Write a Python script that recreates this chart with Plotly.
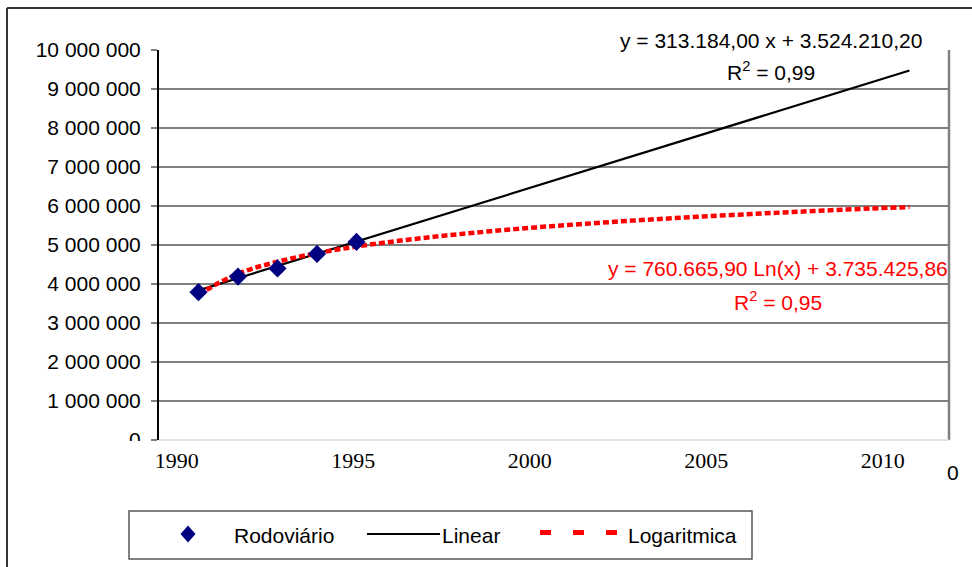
import plotly.graph_objects as go

# ---- data ----
period_index = [1, 2, 3, 4, 5]
rodoviario = [3_790_000, 4_190_000, 4_400_000, 4_770_000, 5_080_000]

linear_x = [1, 19]
linear_y = [3_837_000, 9_475_000]

log_x = list(range(1, 20))
log_y = [3_735_000, 4_263_000, 4_571_000, 4_790_000, 4_960_000, 5_098_000,
         5_216_000, 5_317_000, 5_407_000, 5_487_000, 5_559_000, 5_626_000,
         5_686_000, 5_743_000, 5_795_000, 5_844_000, 5_891_000, 5_934_000,
         5_975_000]

y_tickvals = [0, 1_000_000, 2_000_000, 3_000_000, 4_000_000, 5_000_000,
              6_000_000, 7_000_000, 8_000_000, 9_000_000, 10_000_000]
y_ticktext = ["0", "1 000 000", "2 000 000", "3 000 000", "4 000 000",
              "5 000 000", "6 000 000", "7 000 000", "8 000 000",
              "9 000 000", "10 000 000"]
year_ticks = [1990, 1995, 2000, 2005, 2010]
year_labels = ["1990", "1995", "2000", "2005", "2010"]

lin_eq = "y = 313.184,00 x + 3.524.210,20"
lin_r2 = "R<sup>2</sup> = 0,99"
log_eq = "y = 760.665,90 Ln(x) + 3.735.425,86"
log_r2 = "R<sup>2</sup> = 0,95"
legend_names = ["Rodoviário", "Linear", "Logaritmica"]

# ---- layout geometry (pixels) ----
W, H = 972, 567
L, R, T, B = 159, 949, 50, 440


def px(x):
    return (x - L) / (R - L)


def py(y):
    return (B - y) / (B - T)


SANS = "Liberation Sans, Arial, sans-serif"
SERIF = "Liberation Serif, Times New Roman, serif"

fig = go.Figure()

fig.add_trace(go.Scatter(
    x=linear_x, y=linear_y, mode="lines",
    line=dict(color="black", width=2.2), showlegend=False, hoverinfo="skip"))
fig.add_trace(go.Scatter(
    x=log_x, y=log_y, mode="lines", line_shape="spline",
    line=dict(color="#ff0000", width=4.5, dash="6px,3px"),
    showlegend=False, hoverinfo="skip"))
fig.add_trace(go.Scatter(
    x=period_index, y=rodoviario, mode="markers",
    marker=dict(symbol="diamond", size=14, color="#000080",
                line=dict(width=0)),
    name=legend_names[0], showlegend=False))
# invisible trace to activate year axis
fig.add_trace(go.Scatter(x=[year_ticks[0]], y=[None], xaxis="x2",
                         showlegend=False, hoverinfo="skip"))

fig.update_layout(
    template="none",
    width=W, height=H,
    margin=dict(l=L, r=W - R, t=T, b=H - B, pad=0),
    paper_bgcolor="white", plot_bgcolor="white",
    showlegend=False,
    font=dict(family=SANS, size=21, color="black"),
    xaxis=dict(range=[0, 20], showgrid=False, zeroline=False,
               showticklabels=False, showline=False, ticks="",
               automargin=False, fixedrange=True),
    xaxis2=dict(range=[1989.5, 2011.88], overlaying="x", side="bottom",
                anchor="y", showgrid=False, zeroline=False, showline=False,
                ticks="", tickvals=year_ticks, ticktext=year_labels,
                tickfont=dict(family=SERIF, size=22, color="black"),
                ticklabelstandoff=5, automargin=False),
    yaxis=dict(range=[0, 10_000_000], tickvals=y_tickvals,
               ticktext=y_ticktext, showgrid=True, gridcolor="#808080",
               gridwidth=1.5, zeroline=False, showline=True,
               linecolor="black", linewidth=2, ticks="outside", ticklen=6,
               tickcolor="#808080", tickwidth=1.5,
               tickfont=dict(family=SANS, size=21, color="black"),
               ticklabelstandoff=6, automargin=False),
)

shapes = []
# plot-area right border
shapes.append(dict(type="line", xref="paper", yref="paper",
                   x0=px(R), x1=px(R), y0=py(T), y1=py(B),
                   line=dict(color="#808080", width=2.5)))
# light bottom edge
shapes.append(dict(type="line", xref="paper", yref="paper",
                   x0=px(L), x1=px(R), y0=py(B), y1=py(B),
                   line=dict(color="#d8d8d8", width=1.5), layer="above"))
# white strip hiding lower half of "0" label
shapes.append(dict(type="rect", xref="paper", yref="paper",
                   x0=px(100), x1=px(158), y0=py(441), y1=py(452),
                   fillcolor="white", line=dict(width=0), layer="above"))
# outer chart frame (top & left)
shapes.append(dict(type="line", xref="paper", yref="paper",
                   x0=px(7), x1=px(972), y0=py(8), y1=py(8),
                   line=dict(color="#333333", width=2)))
shapes.append(dict(type="line", xref="paper", yref="paper",
                   x0=px(7), x1=px(7), y0=py(8), y1=py(567),
                   line=dict(color="#333333", width=2)))
# legend box
shapes.append(dict(type="rect", xref="paper", yref="paper",
                   x0=px(129), x1=px(752), y0=py(511), y1=py(559),
                   line=dict(color="#555555", width=1.5),
                   fillcolor="rgba(0,0,0,0)"))
# legend diamond
cx, cy, hw, hh = 188, 534, 7.5, 8.5
shapes.append(dict(type="path", xref="paper", yref="paper",
                   path=(f"M {px(cx)} {py(cy - hh)} L {px(cx + hw)} {py(cy)} "
                         f"L {px(cx)} {py(cy + hh)} L {px(cx - hw)} {py(cy)} Z"),
                   fillcolor="#000080", line=dict(width=0)))
# legend linear line
shapes.append(dict(type="line", xref="paper", yref="paper",
                   x0=px(367), x1=px(440), y0=py(534), y1=py(534),
                   line=dict(color="black", width=2)))
# legend log dashes
shapes.append(dict(type="line", xref="paper", yref="paper",
                   x0=px(540), x1=px(617), y0=py(532.5), y1=py(532.5),
                   line=dict(color="#ff0000", width=5, dash="11px,22px")))
fig.update_layout(shapes=shapes)

ann = []


def add_text(text, x, y, color="black", xanchor="center", family=SANS, size=21):
    ann.append(dict(text=text, xref="paper", yref="paper", x=px(x), y=py(y),
                    xanchor=xanchor, yanchor="middle", showarrow=False,
                    font=dict(family=family, size=size, color=color)))


add_text(lin_eq, 771, 40)
add_text(lin_r2, 771, 71)
add_text(log_eq, 778, 268, color="#ff0000")
add_text(log_r2, 778, 301, color="#ff0000")
add_text(legend_names[0], 232, 535, xanchor="left")
add_text(legend_names[1], 440, 535, xanchor="left")
add_text(legend_names[2], 626, 535, xanchor="left")
add_text("0", 953, 472, size=21)
fig.update_layout(annotations=ann)

fig.write_html("out.html",
               config={"displayModeBar": False},
               post_script="document.body.style.margin='0';"
                           "document.body.style.overflow='hidden';")
